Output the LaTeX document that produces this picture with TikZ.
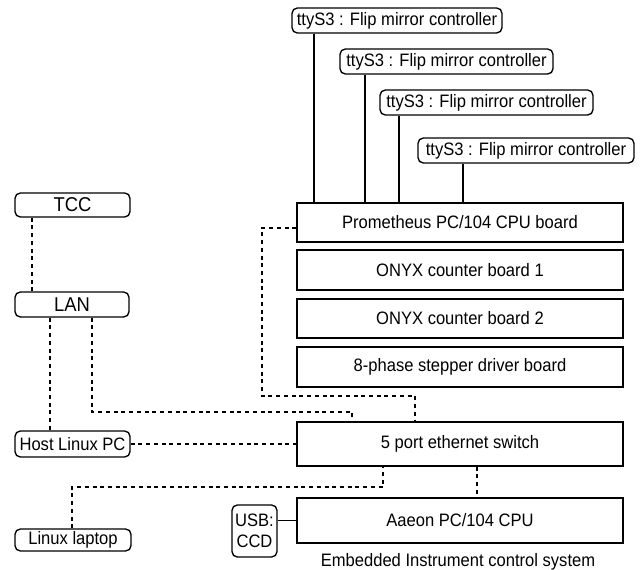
\documentclass[tikz,border=0pt]{standalone}
\usepackage{fontspec}
\setmainfont{Liberation Sans}[FakeStretch=0.92]
\begin{document}
\begin{tikzpicture}[x=0.75pt,y=-0.75pt,
  lbl/.style={font=\fontsize{13.5}{15}\selectfont},
  biglbl/.style={font=\fontsize{15}{17}\selectfont},
  rbox/.style={draw, lbl, rounded corners=4pt, line width=1pt, inner sep=0pt},
  sbox/.style={draw, lbl, line width=1pt, inner sep=0pt, minimum width=244.5pt},
  conn/.style={line width=1pt},
  dconn/.style={conn, dash pattern=on 3pt off 2.8pt}]
\useasboundingbox (0,0) rectangle (640,570);

% left column
\node[rbox, biglbl, minimum width=86.25pt, minimum height=18pt] (tcc) at (72.5,205) {TCC};
\node[rbox, biglbl, minimum width=85.5pt, minimum height=18.75pt] (lan) at (72,304.5) {LAN};
\node[rbox, minimum width=86.25pt, minimum height=19.5pt] (host) at (72.5,444) {Host Linux PC};
\node[rbox, minimum width=87pt, minimum height=16.5pt] (laptop) at (73,540) {Linux laptop};
\node[rbox, minimum width=33.75pt, minimum height=39pt, align=center,
      font=\fontsize{13.5}{16}\selectfont] (usb) at (254.5,531) {USB:\\CCD};

% flip mirror controllers
\node[rbox, minimum width=157.5pt, minimum height=18.75pt] (f1) at (397,20.5) {ttyS3 : Flip mirror controller};
\node[rbox, minimum width=159.75pt, minimum height=18.75pt] (f2) at (446.5,61.5) {ttyS3 : Flip mirror controller};
\node[rbox, minimum width=159.75pt, minimum height=18.75pt] (f3) at (486.5,102.5) {ttyS3 : Flip mirror controller};
\node[rbox, minimum width=162pt, minimum height=18.75pt] (f4) at (526,150.5) {ttyS3 : Flip mirror controller};

% boards
\node[sbox, minimum height=29.25pt] (prom) at (460,222.5) {Prometheus PC/104 CPU board};
\node[sbox, minimum height=30pt] (onyx1) at (460,270) {ONYX counter board 1};
\node[sbox, minimum height=29.25pt] (onyx2) at (460,318.5) {ONYX counter board 2};
\node[sbox, minimum height=30pt] (step8) at (460,367) {8-phase stepper driver board};
\node[sbox, minimum height=33pt] (sw) at (460,444) {5 port ethernet switch};
\node[sbox, minimum height=33.75pt] (aaeon) at (460,520.5) {Aaeon PC/104 CPU};
\node[lbl, inner sep=0pt] (cap) at (458,562) {Embedded Instrument control system};

% helper coordinates
\coordinate (a32) at (32,0);
\coordinate (a50) at (50,0);
\coordinate (p1) at (92,412);
\coordinate (p2) at (352,412);
\coordinate (q1) at (262,228);
\coordinate (q2) at (262,396);
\coordinate (q3) at (415,396);
\coordinate (r1) at (72,487);
\coordinate (r2) at (383,487);
\coordinate (s1) at (477,0);
\coordinate (t1) at (314,0);
\coordinate (t2) at (365,0);
\coordinate (t3) at (399,0);
\coordinate (t4) at (463,0);

% dashed network links
\draw[dconn] (tcc.south -| a32) -- (lan.north -| a32);
\draw[dconn] (lan.south -| a50) -- (host.north -| a50);
\draw[dconn] (lan.south -| p1) -- (p1) -- (p2) -- (sw.north -| p2);
\draw[dconn] (prom.west |- q1) -- (q1) -- (q2) -- (q3) -- (sw.north -| q3);
\draw[dconn] (host.east) -- (host.east -| sw.west);
\draw[dconn] (laptop.north -| r1) -- (r1) -- (r2) -- (sw.south -| r2);
\draw[dconn] (sw.south -| s1) -- (aaeon.north -| s1);

% solid links
\draw[conn] (usb.east |- aaeon.west) -- (aaeon.west);
\draw[conn] (f1.south -| t1) -- (prom.north -| t1);
\draw[conn] (f2.south -| t2) -- (prom.north -| t2);
\draw[conn] (f3.south -| t3) -- (prom.north -| t3);
\draw[conn] (f4.south -| t4) -- (prom.north -| t4);
\end{tikzpicture}
\end{document}
